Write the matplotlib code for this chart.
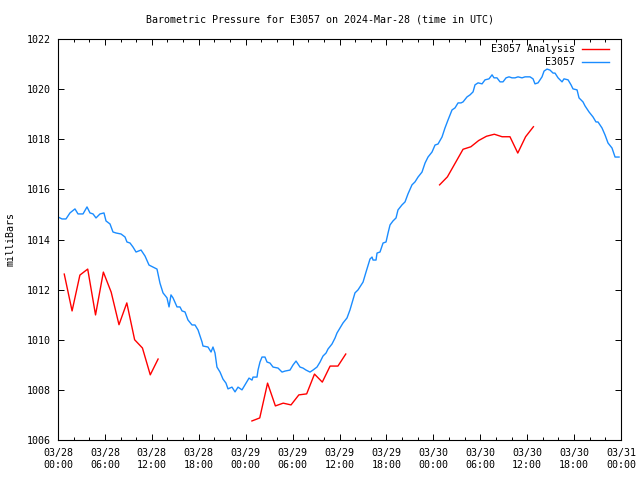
import matplotlib
matplotlib.use("Agg")
import matplotlib.pyplot as plt
from matplotlib.ticker import MultipleLocator

# Hours since 2024-03-28 00:00 UTC
blue_hours = [0, 0.51, 1.02, 1.53, 2.17, 2.56, 3.20, 3.71, 4.09, 4.48, 4.86, 5.37, 5.88, 6.14, 6.65,
              7.03, 7.42, 8.06, 8.57, 8.82, 9.21, 9.59, 9.98, 10.62, 11.13, 11.64, 12.15, 12.66,
              13.04, 13.43, 13.94, 14.20, 14.45, 14.71, 15.22, 15.60, 15.86, 16.24, 16.62, 17.14,
              17.52, 17.91, 18.42, 18.54, 19.18, 19.57, 19.82, 20.08, 20.33, 20.72, 21.10, 21.48,
              21.74, 22.25, 22.64, 23.02, 23.53, 24.04, 24.43, 24.81, 24.94, 25.45, 25.58, 25.83,
              26.09, 26.47, 26.73, 27.11, 27.50, 28.14, 28.65, 29.03, 29.67, 30.05, 30.44, 30.95,
              31.33, 31.72, 32.23, 32.61, 33.12, 33.51, 33.89, 34.28, 34.53, 35.04, 35.43, 35.68,
              36.07, 36.45, 36.96, 37.34, 37.98, 38.37, 39.01, 39.39, 39.90, 40.16, 40.29, 40.67,
              40.80, 41.18, 41.57, 41.95, 42.21, 42.46, 42.84, 43.23, 43.48, 43.99, 44.38, 44.76,
              45.27, 45.66, 46.04, 46.55, 46.94, 47.32, 47.83, 48.22, 48.60, 49.11, 49.49, 49.88,
              50.39, 50.77, 51.16, 51.54, 51.80, 52.31, 52.69, 53.08, 53.33, 53.72, 54.23, 54.61,
              55.12, 55.51, 55.76, 56.14, 56.53, 56.91, 57.30, 57.68, 58.06, 58.45, 58.83, 59.34,
              59.73, 60.36, 60.75, 61.00, 61.39, 61.90, 62.16, 62.54, 62.92, 63.31, 63.56, 63.95,
              64.46, 64.71, 65.23, 65.61, 65.86, 66.38, 66.63, 67.14, 67.40, 67.91, 68.42, 68.80,
              69.06, 69.57, 69.96, 70.34, 70.85, 71.24, 71.75]
blue_mb = [1014.90, 1014.82, 1014.82, 1015.06, 1015.22, 1015.02, 1015.02, 1015.30, 1015.06, 1015.02,
           1014.86, 1015.02, 1015.06, 1014.74, 1014.62, 1014.30, 1014.26, 1014.22, 1014.10, 1013.90,
           1013.86, 1013.70, 1013.50, 1013.58, 1013.34, 1012.98, 1012.90, 1012.82, 1012.26, 1011.87,
           1011.67, 1011.31, 1011.79, 1011.67, 1011.31, 1011.31, 1011.15, 1011.11, 1010.79, 1010.59,
           1010.59, 1010.39, 1009.91, 1009.75, 1009.71, 1009.51, 1009.71, 1009.47, 1008.91, 1008.71,
           1008.43, 1008.27, 1008.04, 1008.11, 1007.92, 1008.11, 1008.00, 1008.27, 1008.47, 1008.39,
           1008.51, 1008.51, 1008.79, 1009.11, 1009.31, 1009.31, 1009.11, 1009.07, 1008.91, 1008.87,
           1008.71, 1008.75, 1008.79, 1008.99, 1009.15, 1008.91, 1008.87, 1008.79, 1008.71, 1008.79,
           1008.91, 1009.11, 1009.35, 1009.47, 1009.63, 1009.83, 1010.07, 1010.27, 1010.47, 1010.67,
           1010.87, 1011.19, 1011.87, 1011.99, 1012.30, 1012.70, 1013.22, 1013.30, 1013.18, 1013.18,
           1013.46, 1013.50, 1013.86, 1013.90, 1014.26, 1014.58, 1014.74, 1014.86, 1015.18, 1015.38,
           1015.50, 1015.82, 1016.18, 1016.30, 1016.49, 1016.69, 1017.05, 1017.29, 1017.49, 1017.77,
           1017.81, 1018.09, 1018.45, 1018.77, 1019.17, 1019.25, 1019.45, 1019.45, 1019.49, 1019.69,
           1019.77, 1019.89, 1020.17, 1020.25, 1020.21, 1020.37, 1020.41, 1020.57, 1020.45, 1020.45,
           1020.29, 1020.29, 1020.45, 1020.49, 1020.45, 1020.45, 1020.49, 1020.45, 1020.49, 1020.49,
           1020.41, 1020.21, 1020.25, 1020.49, 1020.72, 1020.80, 1020.76, 1020.64, 1020.64, 1020.45,
           1020.29, 1020.41, 1020.37, 1020.17, 1020.01, 1019.97, 1019.65, 1019.49, 1019.33, 1019.09,
           1018.89, 1018.69, 1018.69, 1018.45, 1018.17, 1017.85, 1017.65, 1017.29, 1017.29]

# Analysis (hourly, three separate runs)
red1_hours = [0.8, 1.8, 2.8, 3.8, 4.8, 5.8, 6.8, 7.8, 8.8, 9.8, 10.8, 11.8, 12.8]
red1_mb = [1012.62, 1011.15, 1012.58, 1012.82, 1010.99, 1012.70, 1011.90, 1010.60, 1011.47,
           1010.00, 1009.67, 1008.60, 1009.23]
red2_hours = [24.8, 25.8, 26.8, 27.8, 28.8, 29.8, 30.8, 31.8, 32.8, 33.8, 34.8, 35.8, 36.8]
red2_mb = [1006.76, 1006.88, 1008.27, 1007.36, 1007.47, 1007.40, 1007.80, 1007.84, 1008.63,
           1008.31, 1008.95, 1008.95, 1009.43]
red3_hours = [48.8, 49.8, 50.8, 51.8, 52.8, 53.8, 54.8, 55.8, 56.8, 57.8, 58.8, 59.8, 60.8]
red3_mb = [1016.18, 1016.50, 1017.05, 1017.60, 1017.70, 1017.95, 1018.12, 1018.20, 1018.10,
           1018.10, 1017.45, 1018.10, 1018.50]

xtick_hours = list(range(0, 73, 6))
xtick_labels = ["03/28\n00:00", "03/28\n06:00", "03/28\n12:00", "03/28\n18:00",
                "03/29\n00:00", "03/29\n06:00", "03/29\n12:00", "03/29\n18:00",
                "03/30\n00:00", "03/30\n06:00", "03/30\n12:00", "03/30\n18:00",
                "03/31\n00:00"]
yticks = list(range(1006, 1023, 2))

title = "Barometric Pressure for E3057 on 2024-Mar-28 (time in UTC)"
label_analysis = "E3057 Analysis"
label_obs = "E3057"
RED = "#ff0000"
BLUE = "#1a8cff"

plt.rcParams['font.family'] = ['DejaVu Sans Mono']
plt.rcParams['font.size'] = 7.2

fig = plt.figure(figsize=(6.4, 4.8), dpi=100)
ax = fig.add_axes([58/640, 40/480, 563/640, 401/480])

for h, v in [(red1_hours, red1_mb), (red2_hours, red2_mb), (red3_hours, red3_mb)]:
    ax.plot(h, v, color=RED, lw=1.0)
ax.plot(blue_hours, blue_mb, color=BLUE, lw=1.0)

ax.set_xlim(0, 72)
ax.set_ylim(1006, 1022)
ax.set_xticks(xtick_hours)
ax.set_xticklabels(xtick_labels)
ax.xaxis.set_minor_locator(MultipleLocator(2))
ax.set_yticks(yticks)
ax.set_yticklabels([str(v) for v in yticks])
ax.tick_params(which='both', direction='in', top=True, right=True, width=0.7)
ax.tick_params(which='major', length=4.5, pad=5)
ax.tick_params(which='minor', length=2.5)
ax.tick_params(axis='x', which='major', pad=6)
for s in ax.spines.values():
    s.set_linewidth(0.8)

ax.set_ylabel("milliBars", labelpad=8)
fig.text(0.5, 1 - 19/480, title, ha='center', va='center')

# legend (gnuplot style: right-aligned text, sample line to the right)
for i, (lab, col) in enumerate([(label_analysis, RED), (label_obs, BLUE)]):
    yy = 1 - (10 + 13*i)/401
    ax.text(1 - 46/563, yy, lab, transform=ax.transAxes, ha='right', va='center')
    ax.plot([1 - 39/563, 1 - 12/563], [yy, yy], transform=ax.transAxes, color=col, lw=1.0)

fig.savefig("out.png", dpi=100)
